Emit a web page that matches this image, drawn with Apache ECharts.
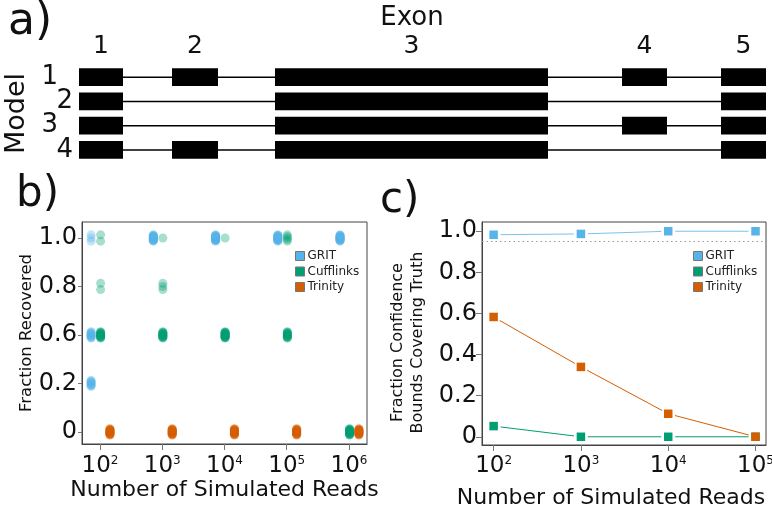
<!DOCTYPE html>
<html>
<head>
<meta charset="utf-8">
<script src="https://cdn.jsdelivr.net/npm/echarts@6/dist/echarts.min.js"></script>
<style>
  html, body { margin: 0; padding: 0; background: #fff; }
  #chart { width: 772px; height: 512px; }
</style>
</head>
<body>
<div id="chart"></div>
<script>
// ---------- a) gene models ----------
const exonNames = ['1', '2', '3', '4', '5'];
const exonStart = [1000, 1930, 2960, 6430, 7420];
const exonEnd   = [1440, 2390, 5690, 6880, 7870];
const modelNames = ['1', '2', '3', '4'];
const modelExons = [[0, 1, 2, 3, 4], [0, 2, 4], [0, 2, 3, 4], [0, 1, 2, 4]];

// ---------- b) fraction of transcripts recovered ----------
const readCounts = [1e2, 1e3, 1e4, 1e5, 1e6];
const fracLevels = [0, 0.2, 0.6, 0.8, 1.0];
const fracLabels = ['0', '0.2', '0.6', '0.8', '1.0'];
// [simulated reads, fraction recovered, number of replicates]
const gritRecovered = [
  [1e2, 1.0, 3], [1e2, 0.6, 12], [1e2, 0.2, 10],
  [1e3, 1.0, 20], [1e4, 1.0, 20], [1e5, 1.0, 20], [1e6, 1.0, 20]
];
const cufflinksRecovered = [
  [1e2, 1.0, 2], [1e2, 0.8, 2], [1e2, 0.6, 16],
  [1e3, 1.0, 1], [1e3, 0.8, 3], [1e3, 0.6, 16],
  [1e4, 1.0, 1], [1e4, 0.6, 19],
  [1e5, 1.0, 5], [1e5, 0.6, 15],
  [1e6, 0, 20]
];
const trinityRecovered = [
  [1e2, 0, 20], [1e3, 0, 20], [1e4, 0, 20], [1e5, 0, 20], [1e6, 0, 20]
];

// ---------- c) confidence bound coverage ----------
const coverageReads = [1e2, 1e3, 1e4, 1e5];
const gritCoverage = [0.983, 0.987, 1.0, 1.0];
const cufflinksCoverage = [0.052, 0, 0, 0];
const trinityCoverage = [0.583, 0.340, 0.112, 0];
const nominalCoverage = 0.95;

const tools = ['GRIT', 'Cufflinks', 'Trinity'];
const toolColors = { GRIT: '#56B4E9', Cufflinks: '#009E73', Trinity: '#D55E00' };

const FONT = 'DejaVu Sans';
const INK = '#111';
const FRAME = '#444';

// horizontal dodge per tool (in decades) and vertical jitter (in level units)
const dodge = { GRIT: -0.143, Cufflinks: 0.01, Trinity: 0.16 };
const JITTER = 0.065;

function recoveredPoints(tool, rows) {
  const pts = [];
  rows.forEach(([reads, frac, n]) => {
    const level = fracLevels.indexOf(frac);
    for (let k = 0; k < n; k++) {
      const off = n > 1 ? JITTER * (2 * k / (n - 1) - 1) : 0;
      pts.push([Math.log10(reads) + dodge[tool], level + off]);
    }
  });
  return pts;
}

function coveragePoints(ys) {
  return coverageReads.map((r, i) => [Math.log10(r), ys[i]]);
}
function coverageSegments(ys) {
  return coverageReads.slice(0, -1).map((r, i) =>
    [Math.log10(r), ys[i], Math.log10(coverageReads[i + 1]), ys[i + 1]]);
}

const LINE_GAP = 7;
function gappedLine(color, opacity) {
  return function (params, api) {
    const a = api.coord([api.value(0), api.value(1)]);
    const b = api.coord([api.value(2), api.value(3)]);
    const dx = b[0] - a[0], dy = b[1] - a[1];
    const L = Math.hypot(dx, dy);
    if (L <= 2 * LINE_GAP) return null;
    const ux = dx / L, uy = dy / L;
    return {
      type: 'line',
      shape: {
        x1: a[0] + ux * LINE_GAP, y1: a[1] + uy * LINE_GAP,
        x2: b[0] - ux * LINE_GAP, y2: b[1] - uy * LINE_GAP
      },
      style: { stroke: color, lineWidth: 1, opacity: opacity }
    };
  };
}

const powerLabel = {
  formatter: v => '{b|10}{s|' + Math.round(v) + '}',
  rich: {
    b: { fontSize: 23, fontFamily: FONT, color: INK },
    s: { fontSize: 12, fontFamily: FONT, color: INK, verticalAlign: 'top' }
  }
};

const legendData = tools.map(t => ({
  name: t,
  itemStyle: { color: toolColors[t], opacity: 1, borderColor: '#777', borderWidth: 1 }
}));
function legendAt(left, top) {
  return {
    left: left, top: top, orient: 'vertical', padding: 0,
    icon: 'rect', itemWidth: 9, itemHeight: 9, itemGap: 3.5,
    selectedMode: false,
    textStyle: { fontFamily: FONT, fontSize: 12, color: '#222', lineHeight: 9, padding: [0, 0, 0, -2] },
    data: legendData
  };
}

const exonMid = exonStart.map((s, i) => (s + exonEnd[i]) / 2);

const chart = echarts.init(document.getElementById('chart'), null, { renderer: 'canvas' });

const option = {
  animation: false,
  backgroundColor: '#fff',
  textStyle: { fontFamily: FONT },
  grid: [
    { left: 79, top: 65, width: 687, height: 97, containLabel: false, outerBoundsMode: 'none' },
    { left: 82, top: 222, width: 285, height: 222, containLabel: false, outerBoundsMode: 'none',
      show: true, borderColor: FRAME, borderWidth: 1 },
    { left: 482, top: 222, width: 284, height: 223, containLabel: false, outerBoundsMode: 'none',
      show: true, borderColor: FRAME, borderWidth: 1 }
  ],
  xAxis: [
    {
      gridIndex: 0, type: 'value', min: 1000, max: 7870, position: 'top',
      axisLine: { show: false }, axisTick: { show: false }, splitLine: { show: false },
      axisLabel: {
        customValues: exonMid, margin: 6,
        formatter: v => exonNames[exonMid.indexOf(v)],
        fontSize: 25, fontFamily: FONT, color: INK
      }
    },
    {
      gridIndex: 1, type: 'value', min: 1.711, max: 6.29,
      axisLine: { show: true, onZero: false, lineStyle: { color: FRAME } },
      axisTick: { show: true, customValues: [2, 3, 4, 5, 6], length: 6, lineStyle: { color: '#777' } },
      axisLabel: Object.assign({ customValues: [2, 3, 4, 5, 6], margin: 11 }, powerLabel),
      splitLine: { show: false },
      name: 'Number of Simulated Reads', nameLocation: 'middle', nameGap: 35,
      nameTextStyle: { fontSize: 22, fontFamily: FONT, color: INK }
    },
    {
      gridIndex: 2, type: 'value', min: 1.867, max: 5.12,
      axisLine: { show: true, onZero: false, lineStyle: { color: FRAME } },
      axisTick: { show: true, customValues: [2, 3, 4, 5], length: 6, lineStyle: { color: '#777' } },
      axisLabel: Object.assign({ customValues: [2, 3, 4, 5], margin: 10 }, powerLabel),
      splitLine: { show: false },
      name: 'Number of Simulated Reads', nameLocation: 'middle', nameGap: 42,
      nameTextStyle: { fontSize: 22, fontFamily: FONT, color: INK, padding: [0, 26, 0, 0] }
    }
  ],
  yAxis: [
    {
      gridIndex: 0, type: 'category', data: modelNames, inverse: true,
      axisLine: { show: false }, axisTick: { show: false }, splitLine: { show: false },
      axisLabel: {
        margin: 6, interval: 0, hideOverlap: false,
        formatter: (v, i) => (i % 2 === 0 ? '{o|' + v + '}' : '{e|' + v + '}'),
        rich: {
          o: { fontSize: 26, fontFamily: FONT, color: INK, padding: [0, 15, 0, 0] },
          e: { fontSize: 26, fontFamily: FONT, color: INK }
        }
      },
      name: 'Model', nameLocation: 'middle', nameRotate: 90, nameGap: 45,
      nameTextStyle: { fontSize: 27, fontFamily: FONT, color: INK }
    },
    {
      gridIndex: 1, type: 'value', min: -0.25, max: 4.33,
      axisLine: { show: true, onZero: false, lineStyle: { color: FRAME } },
      axisTick: { show: true, customValues: [0, 1, 2, 3, 4], length: 4, lineStyle: { color: '#777' } },
      axisLabel: {
        customValues: [0, 1, 2, 3, 4], margin: 5,
        formatter: v => fracLabels[Math.round(v)],
        fontSize: 24, fontFamily: FONT, color: INK
      },
      splitLine: { show: false },
      name: 'Fraction Recovered', nameLocation: 'middle', nameRotate: 90, nameGap: 47,
      nameTextStyle: { fontSize: 16.5, fontFamily: FONT, color: INK }
    },
    {
      gridIndex: 2, type: 'value', min: -0.04, max: 1.045,
      axisLine: { show: true, onZero: false, lineStyle: { color: FRAME } },
      axisTick: { show: true, customValues: [0, 0.2, 0.4, 0.6, 0.8, 1.0], length: 6, lineStyle: { color: '#777' } },
      axisLabel: {
        customValues: [0, 0.2, 0.4, 0.6, 0.8, 1.0], margin: 5,
        formatter: v => (v === 0 ? '0' : v.toFixed(1)),
        fontSize: 24, fontFamily: FONT, color: INK
      },
      splitLine: { show: false },
      name: 'Fraction Confidence\nBounds Covering Truth', nameLocation: 'middle', nameRotate: 90, nameGap: 54,
      nameTextStyle: { fontSize: 16, fontFamily: FONT, color: INK, lineHeight: 20, padding: [0, 18, 0, 0] }
    }
  ],
  legend: [legendAt(295, 250), legendAt(693, 250)],
  graphic: [
    { type: 'text', left: 8, top: 1, style: { text: 'a)', font: '44px "DejaVu Sans"', fill: INK } },
    { type: 'text', left: 16, top: 174, style: { text: 'b)', font: '42px "DejaVu Sans"', fill: INK } },
    { type: 'text', left: 380, top: 180, style: { text: 'c)', font: '42px "DejaVu Sans"', fill: INK } },
    { type: 'text', x: 412, y: 18, style: { text: 'Exon', font: '26px "DejaVu Sans"', fill: INK, align: 'center', verticalAlign: 'middle' } }
  ],
  series: [
    // a) exon/intron structure of each model
    {
      type: 'custom', xAxisIndex: 0, yAxisIndex: 0, silent: true,
      data: modelNames.map((m, i) => [i]),
      encode: { y: 0 },
      renderItem: (params, api) => {
        const row = api.value(0);
        const ex = modelExons[row];
        const h = api.size([0, 1])[1] * 0.74;
        const y = api.coord([exonStart[0], row])[1];
        const x0 = api.coord([exonStart[ex[0]], row])[0];
        const x1 = api.coord([exonEnd[ex[ex.length - 1]], row])[0];
        const children = [{
          type: 'line', shape: { x1: x0, y1: y, x2: x1, y2: y },
          style: { stroke: '#000', lineWidth: 1.5 }
        }];
        ex.forEach(e => {
          const a = api.coord([exonStart[e], row])[0];
          const b = api.coord([exonEnd[e], row])[0];
          children.push({ type: 'rect', shape: { x: a, y: y - h / 2, width: b - a, height: h }, style: { fill: '#000' } });
        });
        return { type: 'group', children: children };
      }
    },
    // b) replicate scatter
    ...[['GRIT', gritRecovered], ['Cufflinks', cufflinksRecovered], ['Trinity', trinityRecovered]].map(([t, rows]) => ({
      name: t, type: 'scatter', xAxisIndex: 1, yAxisIndex: 1,
      symbol: 'circle', symbolSize: 9,
      itemStyle: { color: toolColors[t], opacity: 0.34 },
      data: recoveredPoints(t, rows), silent: true
    })),
    // c) coverage lines with gaps around markers
    ...[['GRIT', gritCoverage, 0.8], ['Cufflinks', cufflinksCoverage, 1], ['Trinity', trinityCoverage, 1]].map(([t, ys, op]) => ({
      name: t, type: 'custom', xAxisIndex: 2, yAxisIndex: 2, silent: true,
      encode: { x: [0, 2], y: [1, 3] },
      data: coverageSegments(ys),
      renderItem: gappedLine(toolColors[t], op)
    })),
    // c) coverage markers
    ...[['GRIT', gritCoverage], ['Cufflinks', cufflinksCoverage], ['Trinity', trinityCoverage]].map(([t, ys], i) => ({
      name: t, type: 'scatter', xAxisIndex: 2, yAxisIndex: 2, silent: true,
      symbol: 'rect', symbolSize: 8.5,
      itemStyle: { color: toolColors[t], opacity: 1 },
      data: coveragePoints(ys),
      markLine: i === 0 ? {
        silent: true, symbol: 'none', label: { show: false },
        lineStyle: { type: [1.5, 3], color: '#999', width: 1 },
        data: [{ yAxis: nominalCoverage }]
      } : undefined
    }))
  ]
};

chart.setOption(option);
</script>
</body>
</html>
